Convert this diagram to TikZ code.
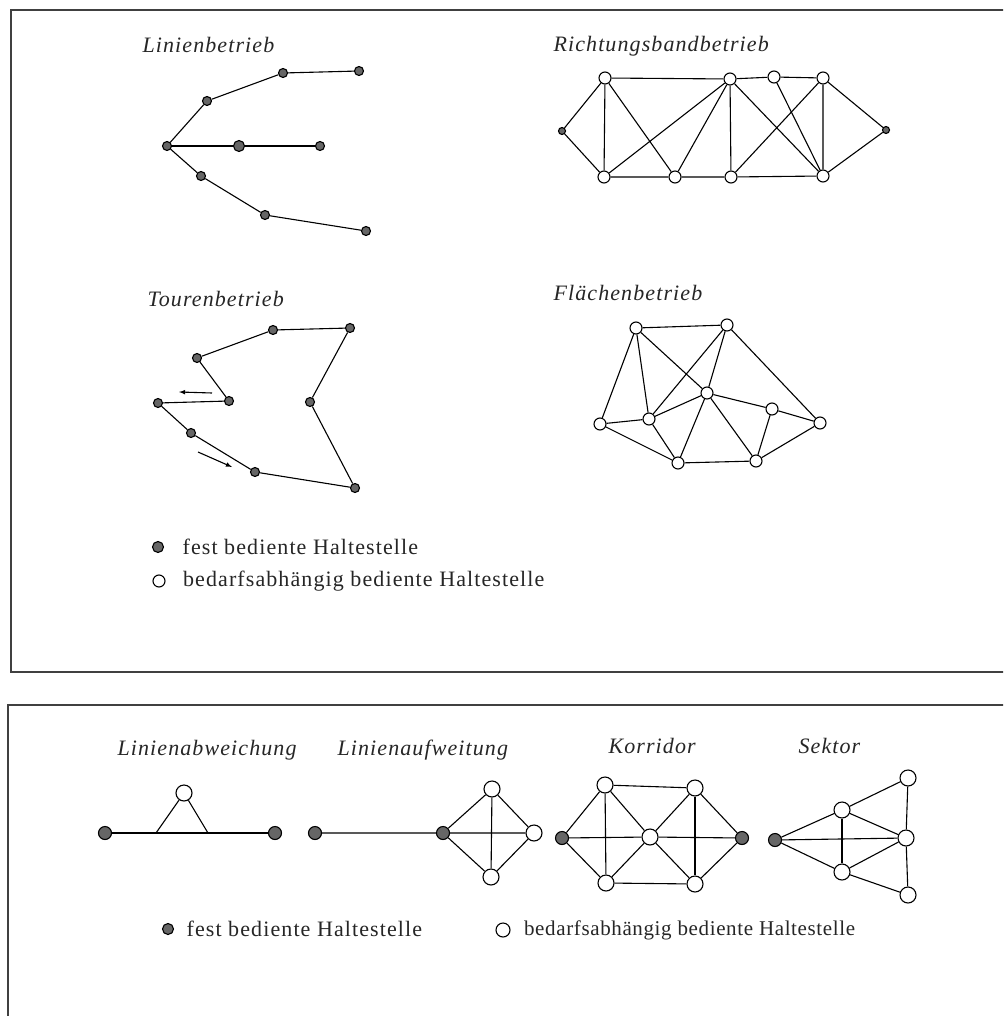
\documentclass[tikz,border=0pt]{standalone}
\usepackage{fontspec}
\setmainfont{Liberation Serif}
\usepackage{tikz}
\usetikzlibrary{positioning}

\begin{document}
\begin{tikzpicture}[
    x=1pt, y=-1pt,
    line width=1.1pt,
    every node/.style={inner sep=0pt},
    fest/.style={circle, draw, fill=black!60, minimum size=9pt},
    bedarf/.style={circle, draw, fill=white, minimum size=12pt},
    festgross/.style={fest, minimum size=13pt},
    bedarfgross/.style={bedarf, minimum size=16pt},
    titel/.style={anchor=base west, text=black!85, font=\fontsize{22}{24}\selectfont\itshape\addfontfeatures{LetterSpace=5}},
    legende/.style={anchor=west, text=black!85, font=\fontsize{22}{24}\selectfont\addfontfeatures{LetterSpace=5}}
]
\clip (0,0) rectangle (1003,1016);
\fill[white] (0,0) rectangle (1003,1016);

% Rahmen
\draw[line width=1.4pt, black!75] (1010,10) -- (11,10) -- (11,672) -- (1010,672);
\draw[line width=1.4pt, black!75] (1010,705) -- (8,705) -- (8,1030);

% Linienbetrieb
\node[titel] (tlinie) at (142,53) {Linienbetrieb};
\node[fest] (lh) at (167,146) {};
\node[fest] (lo1) at (207,101) {};
\node[fest] (lo2) at (283,73) {};
\node[fest] (lo3) at (359,71) {};
\node[fest, minimum size=11pt] (lm1) at (239,146) {};
\node[fest] (lm2) at (320,146) {};
\node[fest] (lu1) at (201,176) {};
\node[fest] (lu2) at (265,215) {};
\node[fest] (lu3) at (366,231) {};
\draw (lh) -- (lo1) -- (lo2) -- (lo3);
\draw (lh) -- (lm1) -- (lm2);
\draw (lh) -- (lu1) -- (lu2) -- (lu3);

% Richtungsbandbetrieb
\node[titel] (trichtung) at (553,52) {Richtungsbandbetrieb};
\node[fest, minimum size=7pt] (rl) at (562,131) {};
\node[bedarf] (rt1) at (605,78) {};
\node[bedarf] (rt2) at (730,79) {};
\node[bedarf] (rt3) at (774,77) {};
\node[bedarf] (rt4) at (823,78) {};
\node[bedarf] (rb1) at (604,177) {};
\node[bedarf] (rb2) at (675,177) {};
\node[bedarf] (rb3) at (731,177) {};
\node[bedarf] (rb4) at (823,176) {};
\node[fest, minimum size=7pt] (rr) at (886,130) {};
\draw (rb1) -- (rl) -- (rt1) -- (rt2) -- (rt3) -- (rt4) -- (rr) -- (rb4) -- (rb3) -- (rb2) -- (rb1);
\draw (rt1) -- (rb1) -- (rt2) -- (rb2) -- (rt1);
\draw (rb3) -- (rt2) -- (rb4) -- (rt3);
\draw (rb3) -- (rt4) -- (rb4);

% Tourenbetrieb
\node[titel] (ttour) at (147,306) {Tourenbetrieb};
\node[fest] (ta) at (197,358) {};
\node[fest] (tb) at (273,330) {};
\node[fest] (tc) at (350,328) {};
\node[fest] (td) at (310,402) {};
\node[fest] (te) at (229,401) {};
\node[fest] (tf) at (158,403) {};
\node[fest] (tg) at (191,433) {};
\node[fest] (th) at (255,472) {};
\node[fest] (ti) at (355,488) {};
\draw (tf) -- (te) -- (ta) -- (tb) -- (tc) -- (td) -- (ti) -- (th) -- (tg) -- (tf);
\coordinate (pf1a) at (212,393);
\coordinate (pf1b) at (179,392);
\coordinate (pf2a) at (198,452);
\coordinate (pf2b) at (232,467);
\draw[-latex] (pf1a) -- (pf1b);
\draw[-latex] (pf2a) -- (pf2b);

% Flaechenbetrieb
\node[titel] (tflaeche) at (553,300) {Flächenbetrieb};
\node[bedarf] (f1) at (636,328) {};
\node[bedarf] (f2) at (727,325) {};
\node[bedarf] (f3) at (600,424) {};
\node[bedarf] (f4) at (649,419) {};
\node[bedarf] (f5) at (707,393) {};
\node[bedarf] (f6) at (772,409) {};
\node[bedarf] (f7) at (820,423) {};
\node[bedarf] (f8) at (678,463) {};
\node[bedarf] (f9) at (756,461) {};
\draw (f3) -- (f1) -- (f2) -- (f7) -- (f9) -- (f8) -- (f3);
\draw (f3) -- (f4) -- (f5) -- (f6) -- (f7);
\draw (f1) -- (f4) -- (f8) -- (f5) -- (f9) -- (f6);
\draw (f1) -- (f5) -- (f2) -- (f4);

% Legende oben
\node[fest, minimum size=11pt] (lg1) at (158,547) {};
\node[bedarf] (lg2) at (159,581) {};
\node[legende, right=18pt of lg1] (lgt1) {fest bediente Haltestelle};
\node[legende, right=17pt of lg2] (lgt2) {bedarfsabhängig bediente Haltestelle};

% Linienabweichung
\node[titel] (tabw) at (117,755) {Linienabweichung};
\node[festgross] (aw1) at (105,833) {};
\node[festgross] (aw2) at (275,833) {};
\node[bedarfgross] (awo) at (184,793) {};
\coordinate (awl) at (156,833);
\coordinate (awr) at (208,833);
\draw (aw1) -- (aw2);
\draw (awl) -- (awo) -- (awr);

% Linienaufweitung
\node[titel] (tauf) at (337,755) {Linienaufweitung};
\node[festgross] (au0) at (315,833) {};
\node[festgross] (au1) at (443,833) {};
\node[bedarfgross] (aut) at (492,789) {};
\node[bedarfgross] (aur) at (534,833) {};
\node[bedarfgross] (aub) at (491,877) {};
\draw (au0) -- (au1) -- (aut) -- (aur) -- (aub) -- (au1) -- (aur);
\draw (aut) -- (aub);

% Korridor
\node[titel] (tkorr) at (608,753) {Korridor};
\node[festgross] (kl) at (562,838) {};
\node[bedarfgross] (kt1) at (605,785) {};
\node[bedarfgross] (kb1) at (606,883) {};
\node[bedarfgross] (kc) at (650,837) {};
\node[bedarfgross] (kt2) at (695,788) {};
\node[bedarfgross] (kb2) at (695,884) {};
\node[festgross] (kr) at (742,838) {};
\draw (kl) -- (kt1) -- (kt2) -- (kr) -- (kb2) -- (kb1) -- (kl);
\draw (kl) -- (kc) -- (kr);
\draw (kt1) -- (kb1);
\draw (kt2) -- (kb2);
\draw (kt1) -- (kc) -- (kb2);
\draw (kb1) -- (kc) -- (kt2);

% Sektor
\node[titel] (tsek) at (798,753) {Sektor};
\node[festgross] (s0) at (775,840) {};
\node[bedarfgross] (su) at (842,810) {};
\node[bedarfgross] (sd) at (842,872) {};
\node[bedarfgross] (st) at (908,778) {};
\node[bedarfgross] (sm) at (906,838) {};
\node[bedarfgross] (sb) at (908,895) {};
\draw (s0) -- (su) -- (st) -- (sm) -- (sb) -- (sd) -- (s0);
\draw (s0) -- (sm);
\draw (su) -- (sm) -- (sd);
\draw (su) -- (sd);

% Legende unten
\node[fest, minimum size=11pt] (lg3) at (168,929) {};
\node[bedarfgross, minimum size=14pt] (lg4) at (503,930) {};
\node[legende, right=12pt of lg3] (lgt3) {fest bediente Haltestelle};
\node[legende, right=13pt of lg4, font=\fontsize{21}{23}\selectfont\addfontfeatures{LetterSpace=3}] (lgt4) {bedarfsabhängig bediente Haltestelle};
\end{tikzpicture}
\end{document}
